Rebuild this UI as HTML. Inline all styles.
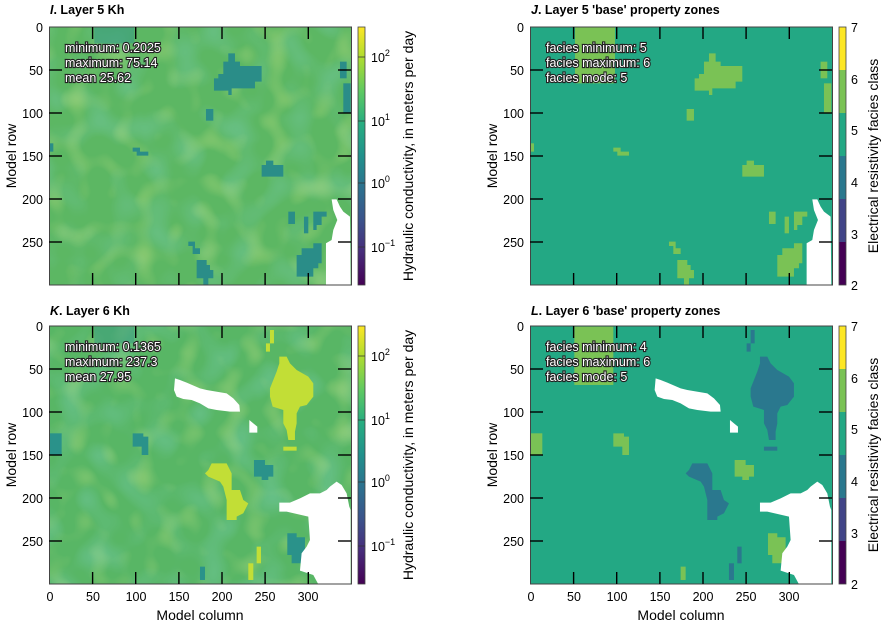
<!DOCTYPE html>
<html><head><meta charset="utf-8"><style>
body{margin:0;background:#fff;}
svg{display:block;font-family:"Liberation Sans",sans-serif;}
.t{font-size:12.5px;fill:#000}
.ti{font-size:12.5px;font-weight:bold}
.st{font-size:12.5px;fill:#fff;stroke:#222;stroke-width:2.2px;paint-order:stroke;}
</style></head><body>
<svg width="882" height="625" viewBox="0 0 882 625" xmlns="http://www.w3.org/2000/svg">
<defs>
<linearGradient id="vir" x1="0" y1="1" x2="0" y2="0">
<stop offset="0" stop-color="#440154"/><stop offset="0.13" stop-color="#472d7b"/><stop offset="0.25" stop-color="#3b528b"/>
<stop offset="0.38" stop-color="#2c728e"/><stop offset="0.5" stop-color="#21918c"/><stop offset="0.63" stop-color="#28ae80"/>
<stop offset="0.75" stop-color="#5ec962"/><stop offset="0.88" stop-color="#addc30"/><stop offset="1" stop-color="#fde725"/>
</linearGradient>
<filter id="nz" x="0" y="0" width="100%" height="100%">
<feTurbulence type="fractalNoise" baseFrequency="0.035" numOctaves="1" seed="3"/>
<feColorMatrix type="matrix" values="0 0 0 0 0.2  0 0 0 0 0.62  0 0 0 0 0.5  0 0 0 2.2 -1.0"/>
</filter>
<filter id="nz2" x="0" y="0" width="100%" height="100%">
<feTurbulence type="fractalNoise" baseFrequency="0.045" numOctaves="1" seed="9"/>
<feColorMatrix type="matrix" values="0 0 0 0 0.68  0 0 0 0 0.82  0 0 0 0 0.25  0 0 0 2.2 -1.1"/>
</filter>
<g id="ijD">
<polygon points="685,160 705,160 705,185 720,185 720,198 785,198 785,245 765,245 765,265 695,265 695,285 685,285 685,272 642,272 642,235 655,235 655,222 670,222 670,185 685,185"/>
<rect x="1020" y="185" width="20" height="50"/><rect x="1030" y="250" width="22" height="88"/>
<rect x="618" y="327" width="22" height="35"/><rect x="148" y="430" width="12" height="25"/>
<polygon points="398,443 420,443 420,455 445,455 445,467 410,467 410,455 398,455"/>
<polygon points="798,482 820,482 820,495 850,495 850,530 785,530 785,495 798,495"/>
<rect x="865" y="635" width="20" height="37"/><rect x="912" y="650" width="13" height="50"/>
<polygon points="940,635 980,635 980,650 965,650 965,675 950,675 950,690 940,690"/>
<polygon points="565,725 585,725 585,745 600,745 600,762 578,762 578,738 565,738"/>
<polygon points="590,780 620,780 620,795 630,795 630,810 640,810 640,835 625,835 625,855 610,855 610,835 590,835"/>
<polygon points="940,730 965,730 965,790 955,790 955,805 940,805 940,830 890,830 890,765 905,765 905,745 940,745"/>
</g>
<g id="ijW"><polygon points="995,598 1010,598 1020,620 1030,635 1050,650 1052,855 978,855 978,730 995,720 1000,690 1012,660 1000,630"/></g>
<g id="klA">
<polygon points="838,170 860,170 870,190 890,210 925,230 940,250 940,290 920,315 900,320 890,340 890,370 885,395 885,420 865,420 860,390 850,370 850,330 818,320 810,290 810,265 820,240 830,215 838,190"/>
<rect x="850" y="440" width="40" height="12"/>
<polygon points="810,90 822,90 822,130 810,130 810,155 798,155 798,130 810,130"/>
<polygon points="635,490 680,490 695,520 695,570 720,570 730,600 745,610 730,640 710,650 710,660 680,660 680,600 670,560 660,545 625,530 615,520 625,510"/>
<rect x="770" y="740" width="13" height="50"/><rect x="745" y="790" width="15" height="50"/>
</g>
<g id="klB">
<rect x="148" y="400" width="37" height="65"/>
<polygon points="398,400 430,400 430,410 445,410 445,465 425,465 425,440 398,440"/>
<polygon points="762,480 795,480 795,495 820,495 820,530 805,530 805,540 785,540 785,530 762,530"/>
<polygon points="862,700 890,700 890,712 915,712 915,760 905,760 905,790 875,790 875,765 862,765"/>
<rect x="600" y="800" width="15" height="40"/>
</g>
<g id="klW">
<polygon points="525,235 540,240 560,248 600,265 620,270 680,280 700,295 718,315 720,335 690,335 650,330 625,325 600,310 575,300 550,297 530,290 522,270"/>
<polygon points="748,360 760,370 772,380 772,398 748,398"/>
<polygon points="1010,545 1025,555 1040,580 1048,620 1052,630 1052,853 955,853 940,825 900,812 905,760 920,740 930,720 925,650 860,635 838,635 838,608 870,608 900,595 930,580 960,580 980,570 990,560"/>
</g>
<g id="tks" stroke="#000" stroke-width="1.4">
<line x1="92.6" y1="27" x2="92.6" y2="39"/><line x1="135.7" y1="27" x2="135.7" y2="39"/><line x1="178.9" y1="27" x2="178.9" y2="39"/><line x1="222" y1="27" x2="222" y2="39"/><line x1="265.1" y1="27" x2="265.1" y2="39"/><line x1="308.3" y1="27" x2="308.3" y2="39"/>
<line x1="92.6" y1="285" x2="92.6" y2="273"/><line x1="135.7" y1="285" x2="135.7" y2="273"/><line x1="178.9" y1="285" x2="178.9" y2="273"/><line x1="222" y1="285" x2="222" y2="273"/><line x1="265.1" y1="285" x2="265.1" y2="273"/><line x1="308.3" y1="285" x2="308.3" y2="273"/>
<line x1="49" y1="70" x2="62" y2="70"/><line x1="49" y1="113" x2="62" y2="113"/><line x1="49" y1="156" x2="62" y2="156"/><line x1="49" y1="199" x2="62" y2="199"/><line x1="49" y1="242" x2="62" y2="242"/>
<line x1="351" y1="70" x2="338" y2="70"/><line x1="351" y1="113" x2="338" y2="113"/><line x1="351" y1="156" x2="338" y2="156"/><line x1="351" y1="199" x2="338" y2="199"/><line x1="351" y1="242" x2="338" y2="242"/>
</g>
</defs>

<rect x="49" y="27" width="302" height="258" fill="#5cb763"/>
<rect x="49" y="27" width="302" height="258" filter="url(#nz)" opacity="0.5"/>
<rect x="49" y="27" width="302" height="258" filter="url(#nz2)" opacity="0.45"/>
<g transform="scale(0.3333)">
<rect x="283" y="80" width="120" height="50" fill="#3e9f7e" opacity="0.7"/>
<use href="#ijD" fill="#2a8d88"/><use href="#ijW" fill="#fff"/>
</g>
<rect x="530" y="27" width="302" height="258" fill="#23a884"/>
<g transform="translate(440,0) scale(0.3333)">
<rect x="405" y="80" width="120" height="170" fill="#7ac255"/>
<g transform="translate(122,0)"><use href="#ijD" fill="#7ac255"/><use href="#ijW" fill="#fff"/></g>
</g>
<rect x="49" y="326" width="302" height="258" fill="#58b665"/>
<rect x="49" y="326" width="302" height="258" filter="url(#nz)" opacity="0.5"/>
<rect x="49" y="326" width="302" height="258" filter="url(#nz2)" opacity="0.45"/>
<g transform="translate(0,300) scale(0.3333)">
<rect x="283" y="80" width="120" height="50" fill="#3e9f7e" opacity="0.6"/>
<use href="#klA" fill="#c2de36"/><use href="#klB" fill="#2a928a"/><use href="#klW" fill="#fff"/>
</g>
<rect x="530" y="326" width="302" height="258" fill="#23a884"/>
<g transform="translate(440,300) scale(0.3333)">
<rect x="403" y="80" width="117" height="175" fill="#7ac255"/>
<g transform="translate(122,0)"><use href="#klA" fill="#2a788e"/><use href="#klB" fill="#7ac255"/><use href="#klW" fill="#fff"/></g>
</g>

<g fill="none" stroke="#444" stroke-width="1">
<rect x="49.5" y="27" width="302" height="258"/><rect x="530.5" y="27" width="302" height="258"/>
<rect x="49.5" y="326" width="302" height="258"/><rect x="530.5" y="326" width="302" height="258"/>
</g>
<use href="#tks"/>
<use href="#tks" transform="translate(481,0)"/>
<use href="#tks" transform="translate(0,299)"/>
<use href="#tks" transform="translate(481,299)"/>

<rect x="358" y="27" width="7" height="258" fill="url(#vir)" stroke="#444" stroke-width="0.8"/>
<rect x="358" y="326" width="7" height="258" fill="url(#vir)" stroke="#444" stroke-width="0.8"/>
<g stroke="#333" stroke-width="0.8" fill="none">
<path d="M358,57h7M358,121h7M358,183h7M358,247h7"/>
<path d="M358,356h7M358,420h7M358,482h7M358,546h7"/>
</g>
<g id="cbj">
<rect x="839" y="27" width="7" height="43" fill="#fde725"/>
<rect x="839" y="70" width="7" height="43" fill="#7ac255"/>
<rect x="839" y="113" width="7" height="43" fill="#23a884"/>
<rect x="839" y="156" width="7" height="43" fill="#2a788e"/>
<rect x="839" y="199" width="7" height="43" fill="#414487"/>
<rect x="839" y="242" width="7" height="43" fill="#440154"/>
<rect x="839" y="27" width="7" height="258" fill="none" stroke="#444" stroke-width="0.8"/>
</g>
<use href="#cbj" transform="translate(0,299)"/>

<text class="ti" x="50" y="14"><tspan font-style="italic">I</tspan>. Layer 5 Kh</text>
<text class="ti" x="531" y="14"><tspan font-style="italic">J</tspan>. Layer 5  'base' property zones</text>
<text class="ti" x="50" y="315"><tspan font-style="italic">K</tspan>. Layer 6 Kh</text>
<text class="ti" x="531" y="315"><tspan font-style="italic">L</tspan>. Layer 6  'base' property zones</text>

<g class="st"><text x="65" y="52">minimum: 0.2025</text><text x="65" y="67">maximum: 75.14</text><text x="65" y="82">mean 25.62</text></g>
<g class="st"><text x="546" y="52">facies minimum: 5</text><text x="546" y="67">facies maximum: 6</text><text x="546" y="82">facies mode: 5</text></g>
<g class="st"><text x="65" y="351">minimum: 0.1365</text><text x="65" y="366">maximum: 237.3</text><text x="65" y="381">mean 27.95</text></g>
<g class="st"><text x="546" y="351">facies minimum: 4</text><text x="546" y="366">facies maximum: 6</text><text x="546" y="381">facies mode: 5</text></g>

<g class="t" text-anchor="end">
<text x="43" y="32">0</text><text x="43" y="75">50</text><text x="43" y="118">100</text><text x="43" y="161">150</text><text x="43" y="204">200</text><text x="43" y="247">250</text>
<text x="524" y="32">0</text><text x="524" y="75">50</text><text x="524" y="118">100</text><text x="524" y="161">150</text><text x="524" y="204">200</text><text x="524" y="247">250</text>
<text x="43" y="331">0</text><text x="43" y="374">50</text><text x="43" y="417">100</text><text x="43" y="460">150</text><text x="43" y="503">200</text><text x="43" y="546">250</text>
<text x="524" y="331">0</text><text x="524" y="374">50</text><text x="524" y="417">100</text><text x="524" y="460">150</text><text x="524" y="503">200</text><text x="524" y="546">250</text>
</g>
<g class="t" text-anchor="middle">
<text x="50" y="601">0</text><text x="93" y="601">50</text><text x="136" y="601">100</text><text x="179" y="601">150</text><text x="222" y="601">200</text><text x="265" y="601">250</text><text x="308" y="601">300</text>
<text x="531" y="601">0</text><text x="574" y="601">50</text><text x="617" y="601">100</text><text x="660" y="601">150</text><text x="703" y="601">200</text><text x="746" y="601">250</text><text x="789" y="601">300</text>
<text x="200" y="620" font-size="14">Model column</text><text x="681" y="620" font-size="14">Model column</text>
</g>
<g class="t" text-anchor="middle">
<text transform="translate(16,156) rotate(-90)" font-size="14">Model row</text>
<text transform="translate(497,156) rotate(-90)" font-size="14">Model row</text>
<text transform="translate(16,455) rotate(-90)" font-size="14">Model row</text>
<text transform="translate(497,455) rotate(-90)" font-size="14">Model row</text>
<text transform="translate(413,156) rotate(-90)" font-size="14">Hydraulic conductivity, in meters per day</text>
<text transform="translate(413,455) rotate(-90)" font-size="14">Hydraulic conductivity, in meters per day</text>
<text transform="translate(878,156) rotate(-90)" font-size="14">Electrical resistivity facies class</text>
<text transform="translate(878,455) rotate(-90)" font-size="14">Electrical resistivity facies class</text>
</g>
<g class="t">
<text x="371" y="62">10<tspan dy="-6" font-size="9">2</tspan></text>
<text x="371" y="126">10<tspan dy="-6" font-size="9">1</tspan></text>
<text x="371" y="188">10<tspan dy="-6" font-size="9">0</tspan></text>
<text x="371" y="252">10<tspan dy="-6" font-size="9">−1</tspan></text>
<text x="371" y="361">10<tspan dy="-6" font-size="9">2</tspan></text>
<text x="371" y="425">10<tspan dy="-6" font-size="9">1</tspan></text>
<text x="371" y="487">10<tspan dy="-6" font-size="9">0</tspan></text>
<text x="371" y="551">10<tspan dy="-6" font-size="9">−1</tspan></text>
<text x="851" y="32">7</text><text x="851" y="84">6</text><text x="851" y="135">5</text><text x="851" y="187">4</text><text x="851" y="239">3</text><text x="851" y="290">2</text>
<text x="851" y="331">7</text><text x="851" y="383">6</text><text x="851" y="434">5</text><text x="851" y="486">4</text><text x="851" y="538">3</text><text x="851" y="589">2</text>
</g>
</svg>
</body></html>
